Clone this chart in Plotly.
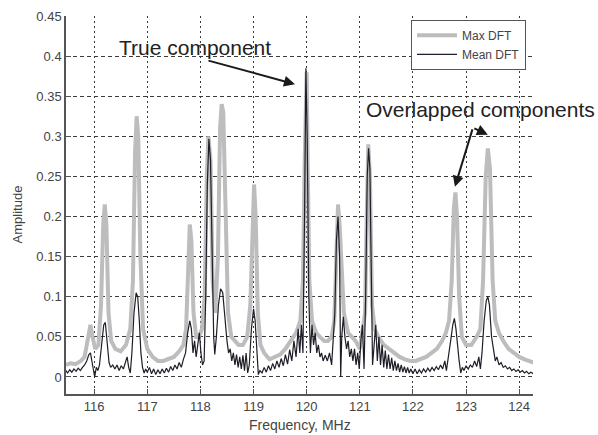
import plotly.graph_objects as go

# ---------------- data ----------------
max_freq = [115.47, 115.55, 115.65, 115.75, 115.82, 115.88, 115.93, 115.97, 116.02, 116.08,
            116.13, 116.17, 116.2, 116.23, 116.27, 116.32, 116.4, 116.5, 116.6, 116.68,
            116.73, 116.77, 116.8, 116.83, 116.87, 116.92, 117.0, 117.1, 117.2, 117.3,
            117.4, 117.5, 117.6, 117.68, 117.73, 117.77, 117.8, 117.83, 117.87, 117.92,
            117.97, 118.03, 118.08, 118.12, 118.15, 118.19, 118.23, 118.28, 118.33, 118.37,
            118.4, 118.43, 118.47, 118.52, 118.58, 118.65, 118.72, 118.8, 118.88, 118.94,
            118.98, 119.01, 119.04, 119.08, 119.13, 119.2, 119.3, 119.4, 119.5, 119.6,
            119.7, 119.8, 119.88, 119.93, 119.96, 119.98, 120.0, 120.02, 120.05, 120.1,
            120.18, 120.25, 120.33, 120.4, 120.47, 120.52, 120.56, 120.59, 120.62, 120.66,
            120.7, 120.78, 120.85, 120.92, 121.0, 121.05, 121.1, 121.13, 121.16, 121.19,
            121.23, 121.28, 121.35, 121.45, 121.55, 121.65, 121.75, 121.85, 121.95, 122.05,
            122.15, 122.25, 122.35, 122.45, 122.55, 122.62, 122.68, 122.73, 122.77, 122.8,
            122.83, 122.87, 122.92, 123.0, 123.1, 123.2, 123.27, 123.32, 123.37, 123.41,
            123.45, 123.5, 123.55, 123.62, 123.7, 123.8, 123.9, 124.0, 124.1, 124.2, 124.27]
max_amp = [0.015, 0.017, 0.016, 0.02, 0.025, 0.045, 0.065, 0.05, 0.035, 0.04,
           0.09, 0.19, 0.215, 0.19, 0.08, 0.045, 0.035, 0.032, 0.04, 0.06,
           0.12, 0.28, 0.325, 0.30, 0.15, 0.06, 0.035, 0.025, 0.02, 0.02,
           0.022, 0.025, 0.032, 0.04, 0.06, 0.16, 0.19, 0.17, 0.08, 0.05,
           0.05, 0.06, 0.1, 0.25, 0.30, 0.27, 0.12, 0.08, 0.15, 0.31,
           0.34, 0.33, 0.2, 0.08, 0.05, 0.045, 0.04, 0.04, 0.05, 0.09,
           0.2, 0.24, 0.2, 0.08, 0.04, 0.03, 0.022, 0.025, 0.028, 0.035,
           0.045, 0.055, 0.07, 0.12, 0.26, 0.37, 0.38, 0.26, 0.12, 0.07,
           0.055, 0.05, 0.045, 0.045, 0.05, 0.07, 0.15, 0.215, 0.19, 0.12,
           0.08, 0.055, 0.05, 0.045, 0.035, 0.06, 0.08, 0.2, 0.29, 0.25,
           0.09, 0.06, 0.05, 0.04, 0.035, 0.03, 0.025, 0.022, 0.02, 0.02,
           0.022, 0.025, 0.03, 0.035, 0.045, 0.055, 0.07, 0.12, 0.21, 0.23,
           0.2, 0.1, 0.05, 0.04, 0.04, 0.05, 0.06, 0.12, 0.25, 0.285,
           0.26, 0.12, 0.07, 0.055, 0.045, 0.035, 0.03, 0.025, 0.022, 0.02, 0.018]

mean_freq = [115.47, 115.5, 115.54, 115.58, 115.62, 115.66, 115.7, 115.74, 115.78, 115.82,
             115.86, 115.9, 115.93, 115.96, 115.99, 116.01, 116.04, 116.07, 116.1, 116.14,
             116.18, 116.21, 116.24, 116.28, 116.31, 116.35, 116.39, 116.43, 116.47, 116.51,
             116.55, 116.59, 116.62, 116.65, 116.68, 116.71, 116.75, 116.79, 116.82, 116.85,
             116.88, 116.91, 116.94, 116.97, 117.0, 117.04, 117.08, 117.12, 117.16, 117.2,
             117.24, 117.28, 117.32, 117.36, 117.4, 117.44, 117.48, 117.52, 117.56, 117.6,
             117.64, 117.68, 117.72, 117.76, 117.8, 117.83, 117.86, 117.89, 117.92, 117.95,
             117.98, 118.01, 118.04, 118.07, 118.1, 118.13, 118.16, 118.19, 118.22, 118.25,
             118.27, 118.3, 118.34, 118.38, 118.42, 118.46, 118.5, 118.53, 118.56, 118.59,
             118.62, 118.65, 118.68, 118.71, 118.74, 118.77, 118.8, 118.83, 118.86, 118.89,
             118.92, 118.96, 119.0, 119.03, 119.06, 119.09, 119.12, 119.16, 119.2, 119.24,
             119.28, 119.32, 119.36, 119.4, 119.44, 119.48, 119.52, 119.56, 119.6, 119.64,
             119.68, 119.72, 119.76, 119.8, 119.84, 119.87, 119.9, 119.93, 119.96, 119.985,
             120.01, 120.04, 120.07, 120.1, 120.13, 120.16, 120.19, 120.22, 120.25, 120.28,
             120.31, 120.35, 120.39, 120.43, 120.47, 120.5, 120.53, 120.56, 120.59, 120.62,
             120.64, 120.66, 120.69, 120.72, 120.75, 120.78, 120.81, 120.84, 120.87, 120.9,
             120.93, 120.96, 120.99, 121.02, 121.05, 121.08, 121.11, 121.14, 121.165, 121.19,
             121.22, 121.24, 121.27, 121.3, 121.33, 121.36, 121.39, 121.42, 121.45, 121.48,
             121.51, 121.54, 121.57, 121.6, 121.63, 121.66, 121.69, 121.72, 121.75, 121.78,
             121.81, 121.84, 121.87, 121.9, 121.93, 121.96, 122.0, 122.04, 122.08, 122.12,
             122.16, 122.2, 122.24, 122.28, 122.32, 122.36, 122.4, 122.44, 122.48, 122.52,
             122.56, 122.6, 122.63, 122.67, 122.71, 122.75, 122.78, 122.81, 122.84, 122.87,
             122.9, 122.93, 122.96, 123.0, 123.04, 123.08, 123.12, 123.16, 123.2, 123.24,
             123.27, 123.3, 123.34, 123.38, 123.41, 123.44, 123.48, 123.52, 123.55, 123.58,
             123.62, 123.66, 123.7, 123.74, 123.78, 123.82, 123.86, 123.9, 123.94, 123.98,
             124.02, 124.06, 124.1, 124.14, 124.18, 124.22, 124.27]
mean_amp = [0.008, 0.005, 0.009, 0.006, 0.01, 0.007, 0.011, 0.008, 0.012, 0.015,
            0.02, 0.028, 0.03, 0.02, 0.008, 0.0, 0.012, 0.008, 0.015, 0.04,
            0.065, 0.068, 0.05, 0.018, 0.012, 0.015, 0.01, 0.015, 0.008, 0.014,
            0.01, 0.02, 0.025, 0.012, 0.005, 0.03, 0.08, 0.105, 0.1, 0.07,
            0.03, 0.012, 0.005, 0.01, 0.006, 0.012, 0.004, 0.01, 0.003, 0.009,
            0.004, 0.01, 0.005, 0.011, 0.006, 0.013, 0.008, 0.015, 0.01, 0.018,
            0.012, 0.022, 0.03, 0.055, 0.07, 0.06, 0.03, 0.045, 0.025, 0.04,
            0.055, 0.03, 0.015, 0.02, 0.1, 0.24, 0.297, 0.27, 0.15, 0.05,
            0.028, 0.05, 0.09, 0.11, 0.105, 0.07, 0.045, 0.03, 0.035, 0.02,
            0.03, 0.015, 0.028, 0.012, 0.025, 0.01, 0.027, 0.008, 0.03, 0.005,
            0.015, 0.06, 0.085, 0.07, 0.03, 0.003, 0.008, 0.005, 0.012, 0.006,
            0.014, 0.008, 0.017, 0.01, 0.02, 0.012, 0.023, 0.014, 0.028, 0.016,
            0.034, 0.02, 0.045, 0.025, 0.06, 0.03, 0.065, 0.03, 0.2, 0.385,
            0.3, 0.1, 0.03, 0.065, 0.04, 0.055, 0.03, 0.04, 0.025, 0.03,
            0.02, 0.027, 0.02, 0.03, 0.015, 0.05, 0.08, 0.17, 0.2, 0.15,
            0.0, 0.05, 0.075, 0.05, 0.035, 0.045, 0.025, 0.035, 0.02, 0.035,
            0.015, 0.03, 0.01, 0.045, 0.065, 0.01, 0.1, 0.25, 0.285, 0.26,
            0.08, 0.015, 0.04, 0.065, 0.02, 0.05, 0.015, 0.04, 0.012, 0.033,
            0.01, 0.028, 0.01, 0.024, 0.008, 0.02, 0.008, 0.017, 0.006, 0.015,
            0.006, 0.013, 0.005, 0.012, 0.005, 0.01, 0.004, 0.01, 0.004, 0.009,
            0.005, 0.01, 0.006, 0.011, 0.007, 0.012, 0.008, 0.013, 0.009, 0.015,
            0.01, 0.02, 0.008, 0.025, 0.045, 0.065, 0.073, 0.06, 0.035, 0.02,
            0.005, 0.012, 0.008, 0.014, 0.01, 0.015, 0.012, 0.02, 0.013, 0.025,
            0.01, 0.03, 0.07, 0.095, 0.1, 0.09, 0.05, 0.03, 0.02, 0.025,
            0.015, 0.018, 0.012, 0.014, 0.01, 0.012, 0.008, 0.01, 0.007, 0.009,
            0.006, 0.008, 0.005, 0.007, 0.004, 0.006, 0.004]

series_names = ["Max DFT", "Mean DFT"]
x_ticks = [116, 117, 118, 119, 120, 121, 122, 123, 124]
x_tick_labels = ["116", "117", "118", "119", "120", "121", "122", "123", "124"]
y_ticks = [0, 0.05, 0.1, 0.15, 0.2, 0.25, 0.3, 0.35, 0.4, 0.45]
y_tick_labels = ["0", "0.05", "0.1", "0.15", "0.2", "0.25", "0.3", "0.35", "0.4", "0.45"]
x_range = [115.47, 124.26]
y_range = [-0.0212, 0.45]

FONT = "Liberation Sans, Arial, sans-serif"
AXIS_COL = "#555555"
GRID_COL = "#3a3a3a"

fig = go.Figure()
fig.add_trace(go.Scatter(x=max_freq, y=max_amp, mode="lines", name=series_names[0],
                         line=dict(color="#bdbdbd", width=4)))
fig.add_trace(go.Scatter(x=mean_freq, y=mean_amp, mode="lines", name=series_names[1],
                         line=dict(color="#1e1e28", width=1.2)))

fig.update_layout(
    width=598, height=435,
    margin=dict(l=66, r=65, t=16, b=41),
    paper_bgcolor="white", plot_bgcolor="white",
    font=dict(family=FONT, size=13, color="#444444"),
    showlegend=True,
    legend=dict(x=0.985, y=0.99, xanchor="right", yanchor="top",
                bgcolor="white", bordercolor="#555555", borderwidth=1,
                font=dict(size=12, color="#444444"), tracegroupgap=0,
                itemwidth=40),
    xaxis=dict(range=x_range, tickvals=x_ticks, ticktext=x_tick_labels,
               showgrid=True, gridcolor=GRID_COL, gridwidth=1, griddash="2px,3px",
               showline=True, linecolor=AXIS_COL, linewidth=1.5, mirror=False,
               ticks="inside", ticklen=5, tickcolor=AXIS_COL, zeroline=False,
               automargin=False,
               tickfont=dict(size=13, color="#444444")),
    yaxis=dict(range=y_range, tickvals=y_ticks, ticktext=y_tick_labels,
               showgrid=True, gridcolor=GRID_COL, gridwidth=1, griddash="4px,3px",
               showline=True, linecolor=AXIS_COL, linewidth=1.5, mirror=False,
               ticks="inside", ticklen=5, tickcolor=AXIS_COL, zeroline=False,
               automargin=False,
               tickfont=dict(size=13, color="#444444")),
)

# axis titles (placed in paper space)
fig.add_annotation(x=0.5, y=-0.083, xref="paper", yref="paper", yanchor="middle",
                   text="Frequency, MHz", showarrow=False,
                   font=dict(family=FONT, size=14, color="#444444"))
fig.add_annotation(x=-0.105, y=0.475, xref="paper", yref="paper", xanchor="center",
                   text="Amplitude", showarrow=False, textangle=-90,
                   font=dict(family=FONT, size=13, color="#444444"))

# text annotations
fig.add_annotation(x=117.89, y=0.411, xref="x", yref="y", text="True component",
                   showarrow=False, font=dict(family=FONT, size=21, color="#222222"))
fig.add_annotation(x=123.27, y=0.334, xref="x", yref="y", text="Overlapped components",
                   showarrow=False, font=dict(family=FONT, size=21, color="#222222"))

# arrows
arrow_style = dict(showarrow=True, arrowhead=2, arrowsize=1.1, arrowwidth=2,
                   arrowcolor="#1a1a1a", text="", xref="x", yref="y")
fig.add_annotation(x=119.78, y=0.365, ax=-88, ay=-24, **arrow_style)
fig.add_annotation(x=122.79, y=0.237, ax=18, ay=-59, **arrow_style)
fig.add_annotation(x=123.41, y=0.302, ax=-15, ay=-7, **arrow_style)

fig.write_html("out.html")
